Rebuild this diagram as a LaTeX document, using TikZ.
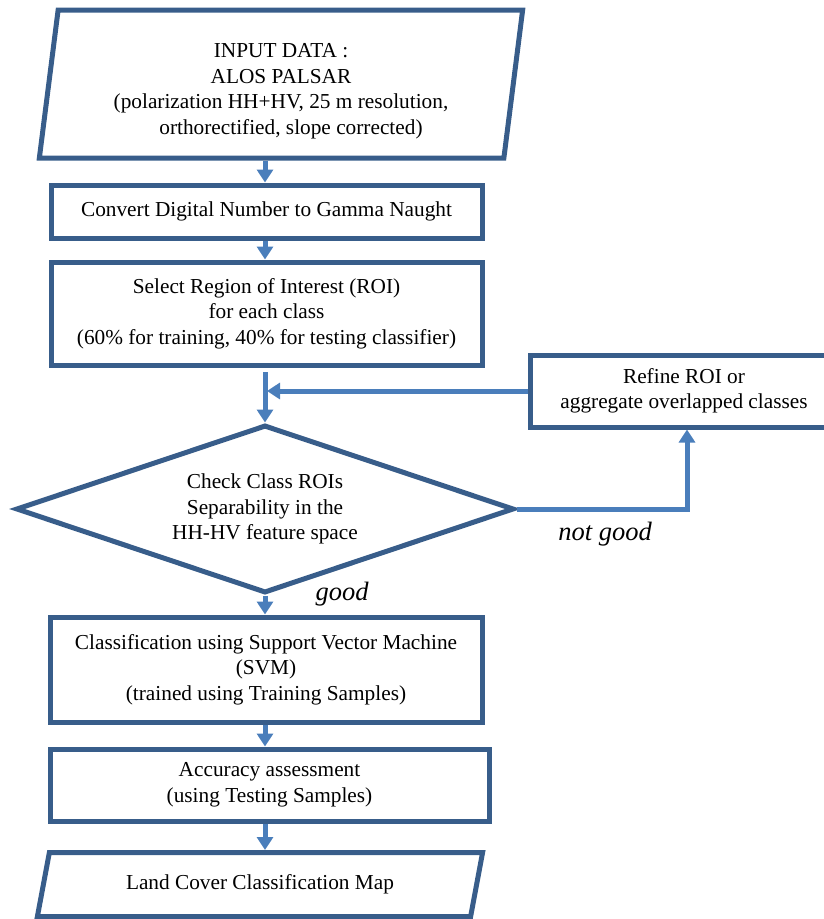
\documentclass[tikz,border=0pt]{standalone}
\usepackage{fontspec}
\setmainfont{Liberation Serif}
\usetikzlibrary{shapes.geometric,arrows.meta}
\definecolor{boxblue}{HTML}{385D8A}
\definecolor{arrowblue}{HTML}{4A7EBB}
\begin{document}
\begin{tikzpicture}[x=1pt,y=-1pt,
  every node/.style={font=\fontsize{21.3}{25.5}\selectfont,align=center,inner sep=0pt},
  box/.style={draw=boxblue,line width=5pt},
  iobox/.style={box,trapezium,trapezium stretches=true},
  arr/.style={draw=arrowblue,line width=5pt,-{Triangle[width=16pt,length=13pt]}},
  lbl/.style={font=\fontsize{26.5}{30}\selectfont\itshape,anchor=base}]
  \useasboundingbox (0,0) rectangle (824,919);
  \coordinate (axis) at (265,0);
  \node[iobox,trapezium left angle=82.7,trapezium right angle=97.3,minimum width=485pt,minimum height=148pt] (inp) at (281,84)
    {\rule{0pt}{29pt}INPUT DATA :\\ALOS PALSAR\\(polarization HH+HV, 25 m resolution,\\\hspace*{20pt}orthorectified, slope corrected)};
  \node[box,minimum width=431pt,minimum height=53pt] (cnv) at (266.5,211.5) {Convert Digital Number to Gamma Naught};
  \node[box,minimum width=431pt,minimum height=103pt] (sel) at (266.5,313.5)
    {Select Region of Interest (ROI)\\for each class\\(60\% for training, 40\% for testing classifier)};
  \node[box,minimum width=308pt,minimum height=72pt] (refine) at (684,391) {Refine ROI or\\aggregate overlapped classes};
  \node[box,diamond,aspect=2.9,minimum width=498pt,minimum height=168pt] (chk) at (265,509)
    {Check Class ROIs\\Separability in the\\HH-HV feature space};
  \node[box,minimum width=432pt,minimum height=105pt] (svm) at (266,669.5)
    {Classification using Support Vector Machine\\(SVM)\\(trained using Training Samples)};
  \node[box,minimum width=439pt,minimum height=72pt] (acc) at (269.5,785) {Accuracy assessment\\(using Testing Samples)};
  \node[iobox,trapezium left angle=68.7,trapezium right angle=111.3,minimum width=446pt,minimum height=64pt] (map) at (260,884.5)
    {Land Cover Classification Map};
  \node[lbl] (good) at (342,600) {good};
  \node[lbl] (notgood) at (605,540) {not good};
  \draw[arr] (inp.south -| axis) -- (cnv.north -| axis);
  \draw[arr] (cnv.south -| axis) -- (sel.north -| axis);
  \draw[arr,shorten <=4.5pt] (sel.south -| axis) -- (chk.north);
  \draw[arr,shorten >=2pt] (refine.west) -- (axis |- refine.west);
  \draw[arr] (chk.east) -| ([xshift=3pt]refine.south);
  \draw[arr] (chk.south) -- (svm.north -| axis);
  \draw[arr] (svm.south -| axis) -- (acc.north -| axis);
  \draw[arr] (acc.south -| axis) -- (map.north -| axis);
\end{tikzpicture}
\end{document}
